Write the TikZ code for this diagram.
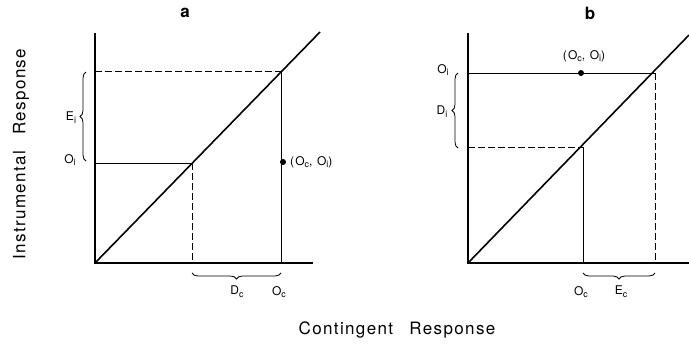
\documentclass[tikz,border=0pt]{standalone}
\usepackage{fontspec}
\setmainfont{TeX Gyre Heros}
\newfontfamily\lblfont[LetterSpace=10]{TeX Gyre Heros}
\newfontfamily\axfont[LetterSpace=8]{TeX Gyre Heros}
\usetikzlibrary{decorations.pathreplacing}
\newcommand\sbs[1]{\raisebox{-0.45ex}{\fontsize{9}{9}\selectfont #1}}
\begin{document}
\begin{tikzpicture}[x=1pt,y=-1pt,
  axisln/.style={line width=2pt},
  diagln/.style={line width=1.6pt},
  thinln/.style={line width=0.8pt},
  dashln/.style={line width=0.8pt,dash pattern=on 7pt off 3pt},
  brc/.style={decorate,decoration={brace,amplitude=6pt},line width=0.8pt},
  lbl/.style={font=\lblfont\fontsize{12}{14}\selectfont,inner sep=0pt},
  ttl/.style={font=\bfseries\fontsize{17}{19}\selectfont,inner sep=0pt},
  axlbl/.style={font=\axfont\fontsize{17}{20}\selectfont,inner sep=0pt}]
\useasboundingbox (0,0) rectangle (689,351);
% ---------- panel a ----------
\coordinate (oa) at (95,263);
\coordinate (axa) at (313,263);
\coordinate (aya) at (95,33);
\coordinate (dga) at (320,32);
\coordinate (a1) at (192,163);
\coordinate (a2) at (281,71);
\coordinate (a1y) at (95,163);
\coordinate (a2y) at (95,71);
\coordinate (a1x) at (192,263);
\coordinate (a2x) at (281,263);
\draw[axisln] (aya) -- (oa) -- (axa);
\draw[diagln] (oa) -- (dga);
\draw[dashln] (a2y) -- (a2);
\draw[thinln] (a2) -- (a2x);
\draw[thinln] (a1y) -- (a1);
\draw[dashln] (a1) -- (a1x);
\coordinate (ebB) at (86,161);
\coordinate (ebT) at (86,72);
\draw[brc] (ebB) -- (ebT);
\coordinate (dbR) at (281,273);
\coordinate (dbL) at (192,273);
\draw[brc] (dbR) -- (dbL);
\node[circle,fill,inner sep=0pt,minimum size=6pt] (dota) at (283,162) {};
\node[lbl,anchor=west] (dotalbl) at (290,162) {(O\sbs{c}, O\sbs{i})};
\node[lbl] (eilbl) at (71,118) {E\sbs{i}};
\node[lbl] (oilbla) at (70,160) {O\sbs{i}};
\node[lbl] (dclbl) at (237,292) {D\sbs{c}};
\node[lbl] (oclbla) at (279,292) {O\sbs{c}};
\node[ttl] (ta) at (185,13) {a};
% ---------- panel b ----------
\coordinate (ob) at (468,263);
\coordinate (axb) at (689,263);
\coordinate (ayb) at (468,33);
\coordinate (dgb) at (689,35);
\coordinate (b1) at (583,147);
\coordinate (b2) at (655,73);
\coordinate (b1y) at (468,147);
\coordinate (b2y) at (468,73);
\coordinate (b1x) at (583,263);
\coordinate (b2x) at (655,263);
\draw[axisln] (ayb) -- (ob) -- (axb);
\draw[diagln] (ob) -- (dgb);
\draw[thinln] (b2y) -- (b2);
\draw[dashln] (b2) -- (b2x);
\draw[dashln] (b1y) -- (b1);
\draw[thinln] (b1) -- (b1x);
\coordinate (dibB) at (458,148);
\coordinate (dibT) at (458,73);
\draw[brc] (dibB) -- (dibT);
\coordinate (ecR) at (655,273);
\coordinate (ecL) at (583,273);
\draw[brc] (ecR) -- (ecL);
\node[circle,fill,inner sep=0pt,minimum size=6pt] (dotb) at (581,73) {};
\node[lbl] (dotblbl) at (584,56) {(O\sbs{c}, O\sbs{i})};
\node[lbl] (oilblb) at (443,70) {O\sbs{i}};
\node[lbl] (dilbl) at (442,112) {D\sbs{i}};
\node[lbl] (oclblb) at (581,292) {O\sbs{c}};
\node[lbl] (eclbl) at (621,292) {E\sbs{c}};
\node[ttl] (tb) at (590,13) {b};
% ---------- axis titles ----------
\node[axlbl,rotate=90] (ylbl) at (21,154) {Instrumental\hspace{0.6em} Response};
\node[axlbl] (xlbl) at (397,330) {Contingent\hspace{0.6em} Response};
\end{tikzpicture}
\end{document}
